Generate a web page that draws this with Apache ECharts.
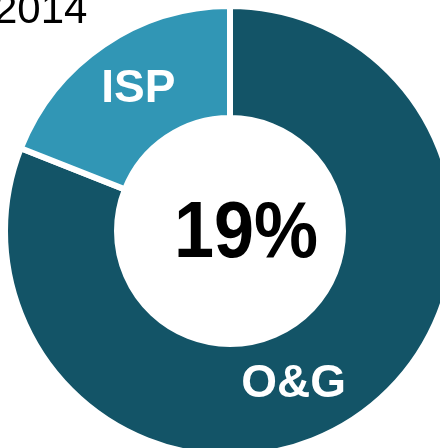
<!DOCTYPE html>
<html>
<head>
<meta charset="utf-8">
<script src="https://cdn.jsdelivr.net/npm/echarts@6/dist/echarts.min.js"></script>
<style>
  html, body { margin: 0; padding: 0; background: #fff; }
  #main { width: 440px; height: 448px; }
</style>
</head>
<body>
<div id="main"></div>
<script>
  // data
  var categories = ['O&G', 'ISP'];
  var values = [81, 19];
  var colors = ['#135467', '#3196B5'];
  var yearLabel = '2014';

  var total = values[0] + values[1];
  var ispShare = Math.round(values[1] / total * 100) + '%';

  var chart = echarts.init(document.getElementById('main'));

  chart.setOption({
    animation: false,
    graphic: [
      {
        type: 'text',
        left: -6,
        top: -10,
        style: {
          text: yearLabel,
          font: '42px "Liberation Sans", Arial, sans-serif',
          fill: '#000'
        }
      },
      {
        type: 'text',
        x: 246,
        y: 235,
        scaleY: 1.1,
        originX: 0,
        originY: 0,
        style: {
          text: ispShare,
          font: 'bold 72px "Liberation Sans", Arial, sans-serif',
          fill: '#000',
          align: 'center',
          verticalAlign: 'middle'
        }
      }
    ],
    series: [{
      type: 'pie',
      center: [230, 231],
      radius: [113, 225],
      startAngle: 90,
      clockwise: true,
      silent: true,
      itemStyle: {
        borderColor: '#fff',
        borderWidth: 6
      },
      label: {
        show: true,
        position: 'inside',
        formatter: '{b}',
        color: '#fff',
        fontFamily: '"Liberation Sans", Arial, sans-serif',
        fontWeight: 'bold',
        fontSize: 46
      },
      labelLine: { show: false },
      labelLayout: function (params) {
        if (params.dataIndex === 0) {
          return { dx: -33, dy: 11 };
        }
        return { dx: 5, dy: 1 };
      },
      data: categories.map(function (c, i) {
        return { name: c, value: values[i], itemStyle: { color: colors[i] } };
      })
    }]
  });
</script>
</body>
</html>
